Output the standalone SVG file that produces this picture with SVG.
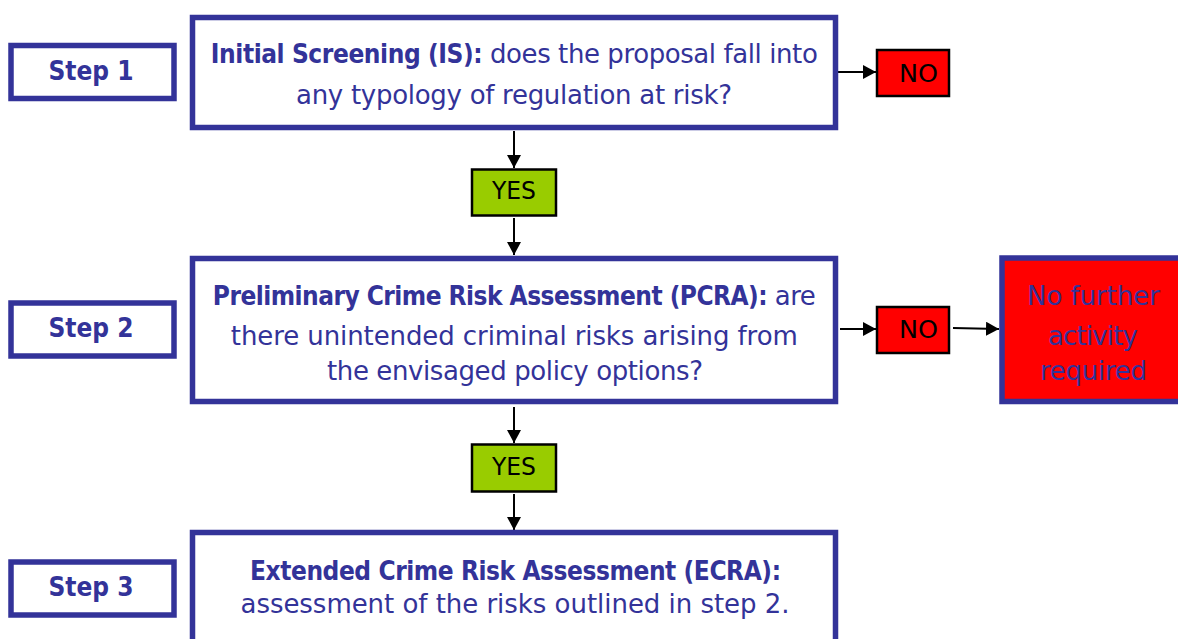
<svg xmlns="http://www.w3.org/2000/svg" width="1178" height="639" viewBox="0 0 1178 639">
  <style>
    .box { fill: #ffffff; stroke: #333399; stroke-width: 5.5; }
    .stop { fill: #ff0000; stroke: #333399; stroke-width: 5.5; }
    .no { fill: #ff0000; stroke: #000000; stroke-width: 2.5; }
    .yes { fill: #99cc00; stroke: #000000; stroke-width: 2.5; }
    .txt { font-family: "DejaVu Sans", "Liberation Sans", sans-serif; font-size: 26px; fill: #333399; text-anchor: middle; }
    .b { font-family: "DejaVu Sans Condensed", "DejaVu Sans", sans-serif; font-size: 26px; font-weight: bold; }
    .lbl { font-family: "DejaVu Sans Condensed", "DejaVu Sans", sans-serif; font-size: 25px; fill: #000000; text-anchor: middle; }
    .steptxt { font-family: "DejaVu Sans Condensed", "DejaVu Sans", sans-serif; font-size: 26px; font-weight: bold; fill: #333399; text-anchor: middle; }
    .conn { stroke: #000000; stroke-width: 2; fill: none; marker-end: url(#arrow); }
  </style>
  <defs>
    <marker id="arrow" viewBox="0 0 13 14" refX="13" refY="7" markerWidth="13" markerHeight="14" markerUnits="userSpaceOnUse" orient="auto">
      <path d="M0,0 L13,7 L0,14 Z" fill="#000000"/>
    </marker>
  </defs>

  <!-- arrows between the boxes -->
  <g id="connectors">
    <line class="conn" x1="838" y1="72" x2="876" y2="72"/>
    <line class="conn" x1="514" y1="131" x2="514" y2="168"/>
    <line class="conn" x1="514" y1="218" x2="514" y2="255"/>
    <line class="conn" x1="840" y1="329" x2="876" y2="329"/>
    <line class="conn" x1="953" y1="328" x2="999" y2="329"/>
    <line class="conn" x1="514" y1="407" x2="514" y2="443"/>
    <line class="conn" x1="514" y1="494" x2="514" y2="530"/>
  </g>

  <!-- step labels -->
  <g id="step1">
    <rect class="box" x="11" y="45.5" width="163" height="53"/>
    <text class="steptxt" x="91" y="80">Step 1</text>
  </g>
  <g id="step2">
    <rect class="box" x="11" y="303" width="163" height="53"/>
    <text class="steptxt" x="91" y="337">Step 2</text>
  </g>
  <g id="step3">
    <rect class="box" x="11" y="562" width="163" height="53"/>
    <text class="steptxt" x="91" y="596">Step 3</text>
  </g>

  <!-- initial screening -->
  <g id="is">
    <rect class="box" x="192.5" y="17.5" width="643" height="110"/>
    <text class="txt" x="514.3" y="63" textLength="607" lengthAdjust="spacing"><tspan class="b">Initial Screening (IS):</tspan> does the proposal fall into</text>
    <text class="txt" x="514" y="104" textLength="436" lengthAdjust="spacing">any typology of regulation at risk?</text>
  </g>
  <g id="no1">
    <rect class="no" x="877" y="50" width="72" height="46"/>
    <text class="lbl" x="918.5" y="82" textLength="39" lengthAdjust="spacingAndGlyphs">NO</text>
  </g>
  <g id="yes1">
    <rect class="yes" x="472" y="169.5" width="84" height="46"/>
    <text class="lbl" x="514" y="199" textLength="44" lengthAdjust="spacingAndGlyphs">YES</text>
  </g>

  <!-- preliminary assessment -->
  <g id="pcra">
    <rect class="box" x="192.5" y="258.5" width="643" height="143"/>
    <text class="txt" x="514.3" y="305" textLength="603" lengthAdjust="spacing"><tspan class="b">Preliminary Crime Risk Assessment (PCRA):</tspan> are</text>
    <text class="txt" x="514.3" y="345" textLength="567" lengthAdjust="spacing">there unintended criminal risks arising from</text>
    <text class="txt" x="515" y="380" textLength="376" lengthAdjust="spacing">the envisaged policy options?</text>
  </g>
  <g id="no2">
    <rect class="no" x="877" y="307" width="72" height="46"/>
    <text class="lbl" x="918.5" y="338" textLength="39" lengthAdjust="spacingAndGlyphs">NO</text>
  </g>
  <g id="end">
    <rect class="stop" x="1002" y="258" width="190" height="143.5"/>
    <text class="txt" x="1093.5" y="305" textLength="133" lengthAdjust="spacing">No further</text>
    <text class="txt" x="1093" y="345" textLength="90" lengthAdjust="spacing">activity</text>
    <text class="txt" x="1093.5" y="380" textLength="107" lengthAdjust="spacing">required</text>
  </g>
  <g id="yes2">
    <rect class="yes" x="472" y="444.5" width="84" height="47"/>
    <text class="lbl" x="514" y="475" textLength="44" lengthAdjust="spacingAndGlyphs">YES</text>
  </g>

  <!-- extended assessment -->
  <g id="ecra">
    <rect class="box" x="192.5" y="532.5" width="643" height="120"/>
    <text class="txt" x="515.5" y="580" textLength="531" lengthAdjust="spacing"><tspan class="b">Extended Crime Risk Assessment (ECRA):</tspan></text>
    <text class="txt" x="515" y="613" textLength="549" lengthAdjust="spacing">assessment of the risks outlined in step 2.</text>
  </g>
</svg>
